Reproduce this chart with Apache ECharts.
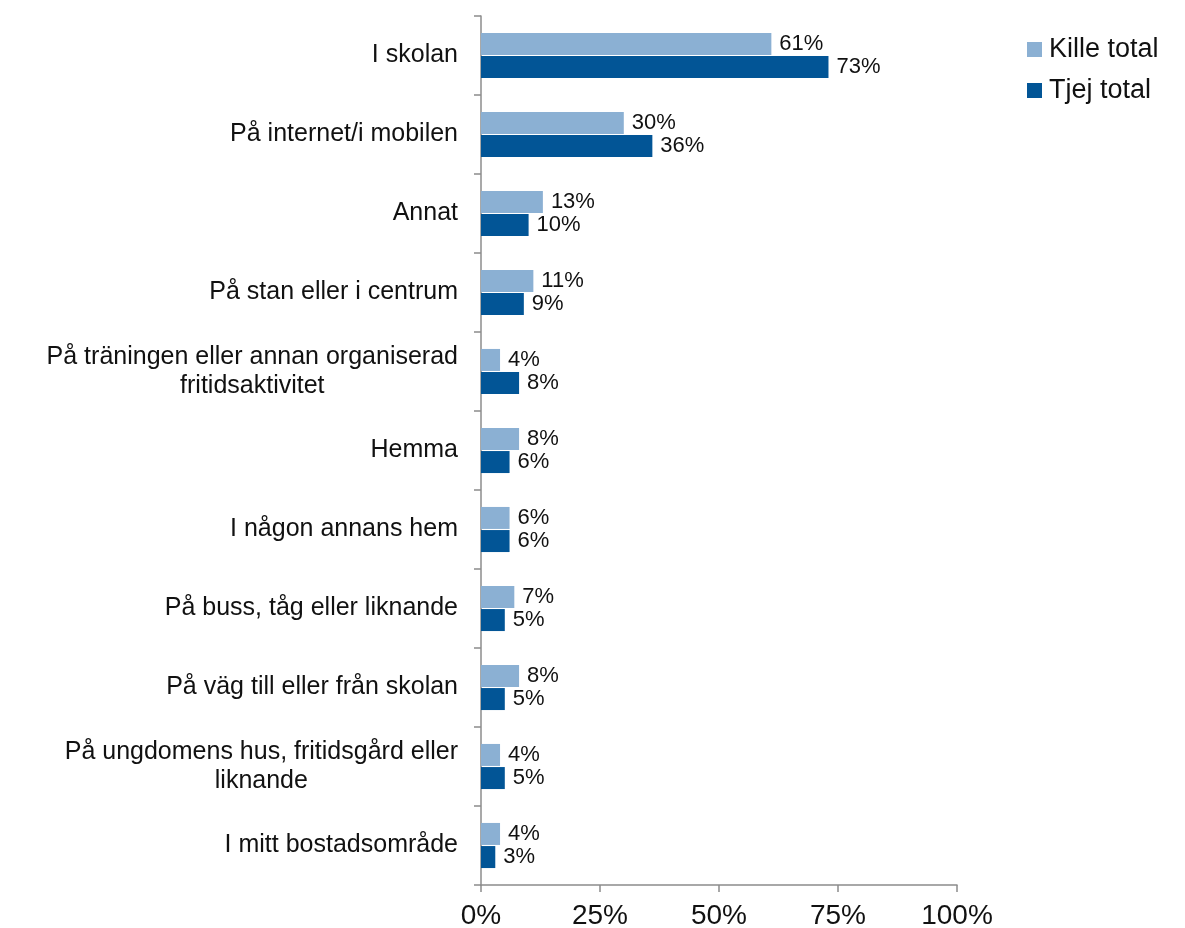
<!DOCTYPE html>
<html><head><meta charset="utf-8">
<script src="https://cdn.jsdelivr.net/npm/echarts@6/dist/echarts.min.js"></script>
<style>html,body{margin:0;padding:0;background:#fff}#c{width:1185px;height:928px}</style>
</head><body><div id="c"></div>
<script>
const categories = [
  "I skolan",
  "På internet/i mobilen",
  "Annat",
  "På stan eller i centrum",
  "På träningen eller annan organiserad\nfritidsaktivitet",
  "Hemma",
  "I någon annans hem",
  "På buss, tåg eller liknande",
  "På väg till eller från skolan",
  "På ungdomens hus, fritidsgård eller\nliknande",
  "I mitt bostadsområde"
];
const killeTotal = [61, 30, 13, 11, 4, 8, 6, 7, 8, 4, 4];
const tjejTotal  = [73, 36, 10, 9, 8, 6, 6, 5, 5, 5, 3];
const seriesNames = ["Kille total", "Tjej total"];
const xTicks = [0, 25, 50, 75, 100];

const font = '"Liberation Sans", Arial, sans-serif';
const chart = echarts.init(document.getElementById('c'));
const labelStyle = {
  show: true, position: 'right', distance: 8,
  formatter: p => p.value + '%',
  fontFamily: font, fontSize: 22, color: '#111'
};
chart.setOption({
  animation: false,
  textStyle: { fontFamily: font },
  legend: {
    orient: 'vertical', left: 1022, top: 31,
    itemWidth: 15, itemHeight: 15, itemGap: 14,
    icon: 'rect',
    textStyle: { fontSize: 27, color: '#111', fontFamily: font, padding: [0,0,0,2] },
    data: seriesNames
  },
  grid: { left: 481, right: 228, top: 16, bottom: 43, containLabel: false, outerBoundsMode: 'none' },
  xAxis: {
    type: 'value', min: 0, max: 100, interval: 25,
    axisLine: { show: true, lineStyle: { color: '#8c8c8c', width: 1.5 } },
    axisTick: { show: true, length: 7, lineStyle: { color: '#8c8c8c', width: 1.5 } },
    splitLine: { show: false },
    axisLabel: { formatter: v => xTicks.includes(v) ? v + '%' : '', fontSize: 28, color: '#111', margin: 17, fontFamily: font }
  },
  yAxis: {
    type: 'category', inverse: true, data: categories,
    axisLine: { show: true, lineStyle: { color: '#8c8c8c', width: 1.5 } },
    axisTick: { show: true, length: 7, lineStyle: { color: '#8c8c8c', width: 1.5 } },
    axisLabel: {
      margin: 23, fontSize: 25, color: '#111', fontFamily: font, lineHeight: 29,
      formatter: v => '{c|' + v + '}',
      rich: { c: { fontSize: 25, fontFamily: font, color: '#111', align: 'center', lineHeight: 29 } }
    }
  },
  series: [
    { name: seriesNames[0], type: 'bar', data: killeTotal, barWidth: 22, barGap: '5%',
      itemStyle: { color: '#8BB0D3' }, label: labelStyle },
    { name: seriesNames[1], type: 'bar', data: tjejTotal, barWidth: 22,
      itemStyle: { color: '#025596' }, label: labelStyle }
  ]
});
</script></body></html>
